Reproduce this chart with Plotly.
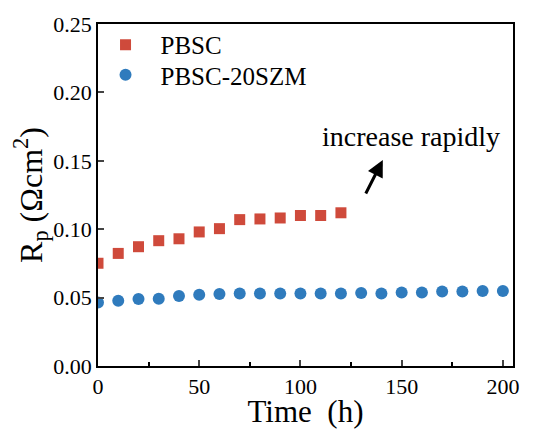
import plotly.graph_objects as go

time_pbsc = [0, 10, 20, 30, 40, 50, 60, 70, 80, 90, 100, 110, 120]
rp_pbsc = [0.0751, 0.0823, 0.0872, 0.0916, 0.0930, 0.0980, 0.1004, 0.1070, 0.1075, 0.1082, 0.1100, 0.1100, 0.1120]
time_szm = [0, 10, 20, 30, 40, 50, 60, 70, 80, 90, 100, 110, 120, 130, 140, 150, 160, 170, 180, 190, 200]
rp_szm = [0.0465, 0.0477, 0.0490, 0.0492, 0.0512, 0.0520, 0.0526, 0.0530, 0.0530, 0.0530, 0.0530, 0.0530,
          0.0530, 0.0533, 0.0530, 0.0538, 0.0538, 0.0545, 0.0545, 0.0548, 0.0548]

font = "Liberation Serif, Times New Roman, serif"

fig = go.Figure()
fig.add_trace(go.Scatter(x=time_pbsc, y=rp_pbsc, mode="markers", name="PBSC", legend="legend",
                         marker=dict(symbol="square", size=11, color="#cf4a3b")))
fig.add_trace(go.Scatter(x=time_szm, y=rp_szm, mode="markers", name="PBSC-20SZM", legend="legend2",
                         marker=dict(symbol="circle", size=12, color="#2f7bbd")))

fig.add_annotation(x=140.7, y=0.1506, ax=131.9, ay=0.125, xref="x", yref="y", axref="x", ayref="y",
                   text="", showarrow=True, arrowhead=2, arrowsize=1.1, arrowwidth=3, arrowcolor="black")
fig.add_annotation(x=154.6, y=0.1675, xref="x", yref="y", text="increase rapidly", showarrow=False,
                   font=dict(family=font, size=28, color="black"))

leg_common = dict(xanchor="left", yanchor="top", font=dict(size=25, family=font),
                  bgcolor="rgba(0,0,0,0)", itemsizing="trace", itemwidth=60)

fig.update_layout(
    width=534, height=429,
    margin=dict(l=98, r=21, t=24, b=63),
    paper_bgcolor="white", plot_bgcolor="white",
    font=dict(family=font, color="black"),
    showlegend=True,
    legend=dict(x=-0.018, y=1.006, **leg_common),
    legend2=dict(x=-0.018, y=0.918, **leg_common),
    xaxis=dict(range=[0, 205], tickvals=[0, 50, 100, 150, 200], ticks="inside", ticklen=6, tickwidth=1.5,
               showline=True, linecolor="black", linewidth=1.5, mirror=True, showgrid=False, zeroline=False,
               tickfont=dict(size=22, family=font), automargin=False,
               minor=dict(tickvals=[25, 75, 125, 175], ticks="inside", ticklen=4, tickwidth=1.5, tickcolor="black"),
               title=dict(text="Time  (h)", font=dict(size=31, family=font), standoff=6)),
    yaxis=dict(range=[0, 0.25], tickvals=[0, 0.05, 0.10, 0.15, 0.20, 0.25], tickformat=".2f", ticks="inside",
               ticklen=6, tickwidth=1.5, showline=True, linecolor="black", linewidth=1.5, mirror=True,
               showgrid=False, zeroline=False, tickfont=dict(size=22, family=font), automargin=False,
               title=dict(text="R<sub>p</sub> (Ωcm<sup>2</sup>)", font=dict(size=32, family=font), standoff=0)),
)

fig.write_html("out.html")
